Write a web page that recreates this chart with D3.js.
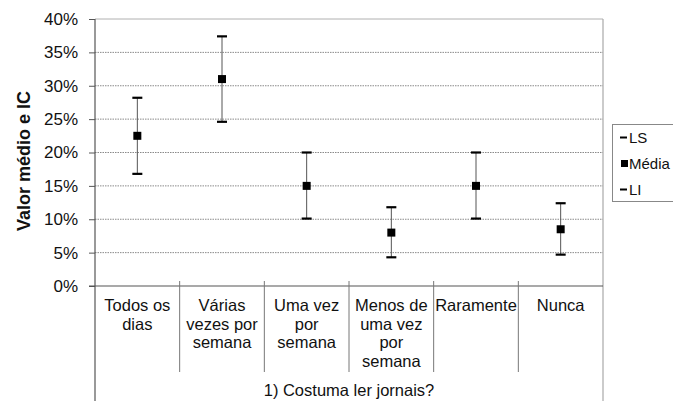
<!DOCTYPE html>
<html><head><meta charset="utf-8">
<script src="https://cdn.jsdelivr.net/npm/d3@7"></script>
<style>body{margin:0;background:#fff}svg{display:block;font-family:"Liberation Sans",Arial,sans-serif}</style>
</head><body><svg id="c" width="673" height="401"></svg>
<script>
const categories = ["Todos os\ndias","Várias\nvezes por\nsemana","Uma vez\npor\nsemana","Menos de\numa vez\npor\nsemana","Raramente","Nunca"];
const media = [0.225, 0.310, 0.150, 0.080, 0.150, 0.085];
const ls    = [0.282, 0.374, 0.200, 0.118, 0.200, 0.124];
const li    = [0.168, 0.246, 0.101, 0.043, 0.101, 0.047];
const yTicks = [0,0.05,0.10,0.15,0.20,0.25,0.30,0.35,0.40];
const groupTitle = "1) Costuma ler jornais?";
const yTitle = "Valor médio e IC";
const legendItems = ["LS","Média","LI"];

const svg = d3.select("#c");
const L = 95, R = 603, T = 19, B = 286;
const x = d3.scaleBand().domain(categories).range([L, R]).padding(0);
const y = d3.scaleLinear().domain([0, 0.40]).range([B, T]);

// gridlines
svg.append("g").selectAll("line").data(yTicks.filter(v => v > 0 && v < 0.40)).join("line")
  .attr("x1", L).attr("x2", R).attr("y1", d => y(d)).attr("y2", d => y(d))
  .attr("stroke", "#8a8a8a").attr("stroke-width", 1).attr("stroke-dasharray", "1.5,1");
// plot border top/right
svg.append("line").attr("x1", L).attr("x2", R).attr("y1", y(0.40)).attr("y2", y(0.40)).attr("stroke", "#b0b0b0");
svg.append("line").attr("x1", R).attr("x2", R).attr("y1", T).attr("y2", 401).attr("stroke", "#a8a8a8").attr("stroke-width", 1.2);

// y axis
const yAxis = d3.axisLeft(y).tickValues(yTicks).tickFormat(d3.format(".0%")).tickSize(6).tickPadding(11);
const ga = svg.append("g").attr("transform", `translate(${L},0)`).call(yAxis);
ga.select(".domain").remove();
ga.selectAll(".tick line").attr("stroke", "#555");
ga.selectAll(".tick text").attr("font-size", 17).attr("fill", "#111").attr("font-family", "Liberation Sans, Arial, sans-serif");
svg.append("line").attr("x1", L).attr("x2", L).attr("y1", T).attr("y2", 401).attr("stroke", "#555").attr("stroke-width", 1.2);

// x axis baseline
svg.append("line").attr("x1", L - 6).attr("x2", R).attr("y1", B).attr("y2", B).attr("stroke", "#555").attr("stroke-width", 1.2);
// category dividers
svg.append("g").selectAll("line").data(categories.slice(1)).join("line")
  .attr("x1", d => x(d)).attr("x2", d => x(d)).attr("y1", B - 5).attr("y2", 372)
  .attr("stroke", "#777").attr("stroke-width", 1);

// category labels
const cl = svg.append("g").selectAll("text").data(categories).join("text")
  .attr("x", d => x(d) + x.bandwidth() / 2).attr("y", 311)
  .attr("text-anchor", "middle").attr("font-size", 16.5).attr("fill", "#111");
cl.selectAll("tspan").data(d => d.split("\n").map(s => ({s, d}))).join("tspan")
  .attr("x", o => x(o.d) + x.bandwidth() / 2).attr("dy", (o, i) => i === 0 ? 0 : 18.7).text(o => o.s);

svg.append("text").attr("x", (L + R) / 2).attr("y", 396).attr("text-anchor", "middle")
  .attr("font-size", 16.5).attr("fill", "#111").text(groupTitle);

// y title
svg.append("text").attr("transform", "translate(30,161) rotate(-90)").attr("text-anchor", "middle")
  .attr("font-size", 18).attr("font-weight", "bold").attr("fill", "#111").text(yTitle);

// error bars
const cx = i => x(categories[i]) + x.bandwidth() / 2;
const g = svg.append("g");
g.selectAll(".v").data(media).join("line")
  .attr("x1", (d, i) => cx(i)).attr("x2", (d, i) => cx(i))
  .attr("y1", (d, i) => y(ls[i])).attr("y2", (d, i) => y(li[i]))
  .attr("stroke", "#555").attr("stroke-width", 1);
g.selectAll(".cs").data(ls).join("line")
  .attr("x1", (d, i) => cx(i) - 5).attr("x2", (d, i) => cx(i) + 5)
  .attr("y1", d => y(d)).attr("y2", d => y(d)).attr("stroke", "#000").attr("stroke-width", 2.2);
g.selectAll(".ci").data(li).join("line")
  .attr("x1", (d, i) => cx(i) - 5).attr("x2", (d, i) => cx(i) + 5)
  .attr("y1", d => y(d)).attr("y2", d => y(d)).attr("stroke", "#000").attr("stroke-width", 2.2);
g.selectAll("rect").data(media).join("rect")
  .attr("x", (d, i) => cx(i) - 4).attr("y", d => y(d) - 4).attr("width", 8).attr("height", 8).attr("fill", "#000");

// legend
const lg = svg.append("g");
lg.append("rect").attr("x", 612.5).attr("y", 124.5).attr("width", 80).attr("height", 77)
  .attr("fill", "#fff").attr("stroke", "#888");
legendItems.forEach((t, i) => {
  const yy = 143 + i * 26;
  if (t === "Média") {
    lg.append("rect").attr("x", 621).attr("y", yy - 9).attr("width", 7).attr("height", 7).attr("fill", "#000");
  } else {
    lg.append("line").attr("x1", 620).attr("x2", 627).attr("y1", yy - 5.5).attr("y2", yy - 5.5).attr("stroke", "#000").attr("stroke-width", 2);
  }
  lg.append("text").attr("x", 629).attr("y", yy).attr("font-size", 15).attr("fill", "#111").text(t);
});
</script></body></html>
